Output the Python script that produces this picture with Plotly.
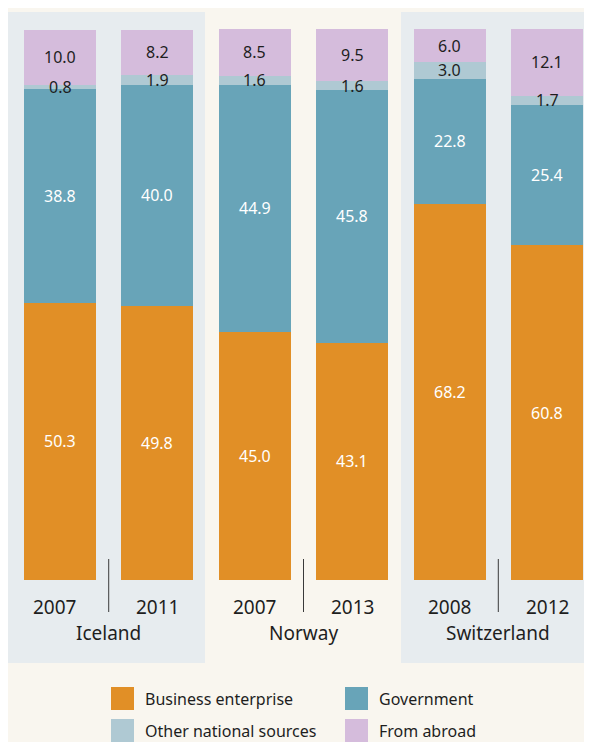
import plotly.graph_objects as go

# ---- data ----
countries = ["Iceland", "Norway", "Switzerland"]
years = [["2007", "2011"], ["2007", "2013"], ["2008", "2012"]]

business = [50.3, 49.8, 45.0, 43.1, 68.2, 60.8]
government = [38.8, 40.0, 44.9, 45.8, 22.8, 25.4]
other_national = [0.8, 1.9, 1.6, 1.6, 3.0, 1.7]
from_abroad = [10.0, 8.2, 8.5, 9.5, 6.0, 12.1]

series_names = ["Business enterprise", "Government", "Other national sources", "From abroad"]
series_values = [business, government, other_national, from_abroad]
series_colors = ["#E18F26", "#68A4B8", "#AFC9D3", "#D5BCDC"]
label_colors = ["white", "white", "#1e1e1e", "#1e1e1e"]

BG = "#F9F6EF"
PANEL = "#E7ECEF"
TXT = "#1e1e1e"
FONT = "Noto Sans"

W, H = 584, 734          # figure size (page body adds an 8px margin)
PLOT_TOP, PLOT_BOT = 21, 572
PH = PLOT_BOT - PLOT_TOP


def py(fy):
    """figure pixel y -> paper y"""
    return (PLOT_BOT - fy) / PH


bar_keys = [f"{c} {y}" for c, ys in zip(countries, years) for y in ys]
bar_years = [y for ys in years for y in ys]

fig = go.Figure()
for name, vals, col in zip(series_names, series_values, series_colors):
    fig.add_trace(go.Bar(
        x=bar_keys, y=vals, name=name, marker=dict(color=col, line=dict(width=0)),
        width=0.739, showlegend=False, hoverinfo="skip",
    ))

annotations = []
for i, key in enumerate(bar_keys):
    base = 0.0
    for vals, lc in zip(series_values, label_colors):
        v = vals[i]
        annotations.append(dict(
            x=i, y=base + v / 2, xref="x", yref="y", text=f"{v:.1f}",
            showarrow=False, xanchor="center", yanchor="middle",
            font=dict(family=FONT, size=16, color=lc),
        ))
        base += v

for i, yr in enumerate(bar_years):
    annotations.append(dict(
        x=i, y=py(598.5), xref="x", yref="paper", text=yr, showarrow=False,
        xanchor="center", yanchor="middle", xshift=-6 if i == 0 else 0,
        font=dict(family=FONT, size=19, color=TXT),
    ))

shapes = []
for g, c in enumerate(countries):
    mid = 2 * g + 0.5
    annotations.append(dict(
        x=mid, y=py(625.5), xref="x", yref="paper", text=c, showarrow=False,
        xanchor="center", yanchor="middle",
        font=dict(family=FONT, size=19, color=TXT),
    ))
    shapes.append(dict(
        type="line", xref="x", yref="paper", x0=mid, x1=mid, y0=py(551), y1=py(604),
        line=dict(color="#3a3a3a", width=1), layer="above",
    ))

for x0, x1 in [(0, 197 / W), (393 / W, 1.0)]:
    shapes.append(dict(
        type="rect", xref="paper", yref="paper", x0=x0, x1=x1,
        y0=py(655), y1=py(4), fillcolor=PANEL, line=dict(width=0), layer="below",
    ))

leg_pos = [(103, 679), (337, 679), (103, 711), (337, 711)]
for (lx, ly), name, col in zip(leg_pos, series_names, series_colors):
    shapes.append(dict(
        type="rect", xref="paper", yref="paper",
        x0=lx / W, x1=(lx + 23) / W, y0=py(ly + 23), y1=py(ly),
        fillcolor=col, line=dict(width=0),
    ))
    annotations.append(dict(
        x=(lx + 32) / W, y=py(ly + 12), xref="paper", yref="paper",
        text=name, showarrow=False, xanchor="left", yanchor="middle",
        font=dict(family=FONT, size=16, color=TXT),
    ))

fig.update_layout(
    barmode="stack",
    width=W, height=H,
    margin=dict(l=0, r=0, t=PLOT_TOP, b=H - PLOT_BOT, pad=0),
    paper_bgcolor=BG, plot_bgcolor="rgba(0,0,0,0)",
    xaxis=dict(range=[-0.534, 5.462], showticklabels=False, showgrid=False,
               zeroline=False, showline=False, ticks=""),
    yaxis=dict(range=[0, 100], visible=False, showgrid=False, zeroline=False),
    annotations=annotations, shapes=shapes, bargap=0,
    font=dict(family=FONT),
)

fig.write_html("out.html", config={"displayModeBar": False})
